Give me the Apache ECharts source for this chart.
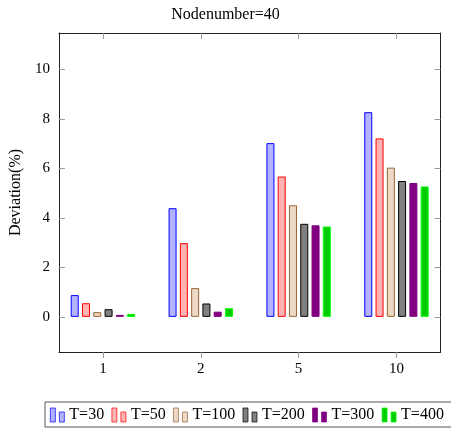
<!DOCTYPE html>
<html>
<head>
<meta charset="utf-8">
<script src="https://cdn.jsdelivr.net/npm/echarts@6/dist/echarts.min.js"></script>
<style>html,body{margin:0;padding:0;background:#fff}#c{width:451px;height:428px}</style>
</head>
<body>
<div id="c"></div>
<script>
const categories = ['1', '2', '5', '10'];
const seriesNames = ['T=30', 'T=50', 'T=100', 'T=200', 'T=300', 'T=400'];
const t30 = [0.88, 4.39, 7.02, 8.27];
const t50 = [0.55, 2.98, 5.67, 7.21];
const t100 = [0.19, 1.16, 4.51, 6.03];
const t200 = [0.31, 0.54, 3.76, 5.49];
const t300 = [0.08, 0.21, 3.70, 5.41];
const t400 = [0.12, 0.35, 3.65, 5.27];
const yTicks = [0, 2, 4, 6, 8, 10];

const values = [t30, t50, t100, t200, t300, t400];
const fills = ['#b3b3ff', '#ffb3b3', '#ecd9c6', '#808080', '#800080', '#00cc00'];
const strokes = ['#0000ff', '#ff0000', '#996633', '#000000', '#800080', '#00ff00'];
const catIdx = categories.map((c, i) => i);
const font = 'Liberation Serif';

const chart = echarts.init(document.getElementById('c'), null, {renderer: 'canvas'});
const axisLineStyle = {color: '#222', width: 1};
const tickStyle = {color: '#999', width: 1};

chart.setOption({
  animation: false,
  backgroundColor: '#fff',
  title: {
    text: 'Nodenumber=40', left: 'center', top: 2,
    textStyle: {fontFamily: font, fontSize: 16, fontWeight: 'normal', color: '#000'}
  },
  grid: {left: 58, top: 33, right: 10.5, bottom: 76, containLabel: false},
  legend: {
    data: seriesNames, bottom: 1, left: 45, width: 420,
    orient: 'horizontal',
    icon: 'path://M0,0H5V14H0Z M9,4H14V14H9Z',
    itemWidth: 14, itemHeight: 14, itemGap: 7.4,
    itemStyle: {borderWidth: 0.7},
    padding: [5, 12, 4, 5],
    borderColor: '#555', borderWidth: 1, borderRadius: 0,
    textStyle: {fontFamily: font, fontSize: 16, color: '#000'}
  },
  xAxis: [{
    type: 'value', position: 'bottom', min: -0.45, max: 3.45,
    axisLine: {show: true, onZero: false, lineStyle: axisLineStyle},
    axisTick: {show: true, inside: false, length: 6, customValues: catIdx, lineStyle: tickStyle},
    axisLabel: {show: true, customValues: catIdx, margin: 10,
      formatter: v => categories[Math.round(v)],
      fontFamily: font, fontSize: 15, color: '#000'},
    splitLine: {show: false}
  }, {
    type: 'value', position: 'top', min: -0.45, max: 3.45,
    axisLine: {show: true, onZero: false, lineStyle: axisLineStyle},
    axisTick: {show: true, inside: true, length: 6, customValues: catIdx, lineStyle: tickStyle},
    axisLabel: {show: false},
    splitLine: {show: false}
  }],
  yAxis: [{
    type: 'value', position: 'left', min: -1.42, max: 11.47,
    name: 'Deviation(%)', nameLocation: 'middle', nameGap: 33, nameRotate: 90,
    nameTextStyle: {fontFamily: font, fontSize: 16, color: '#000'},
    axisLine: {show: true, onZero: false, lineStyle: axisLineStyle},
    axisTick: {show: true, inside: true, length: 6, customValues: yTicks, lineStyle: tickStyle},
    axisLabel: {show: true, customValues: yTicks, margin: 9,
      fontFamily: font, fontSize: 15, color: '#000'},
    splitLine: {show: false}
  }, {
    type: 'value', position: 'right', min: -1.42, max: 11.47,
    axisLine: {show: true, onZero: false, lineStyle: axisLineStyle},
    axisTick: {show: true, inside: true, length: 6, customValues: yTicks, lineStyle: tickStyle},
    axisLabel: {show: false},
    splitLine: {show: false}
  }],
  series: seriesNames.map((name, s) => ({
    name: name, type: 'bar', xAxisIndex: 0, yAxisIndex: 0,
    barWidth: 8, barGap: '41%',
    itemStyle: {color: fills[s], borderColor: strokes[s], borderWidth: 1},
    data: categories.map((c, i) => [i, values[s][i]])
  }))
});
</script>
</body>
</html>
